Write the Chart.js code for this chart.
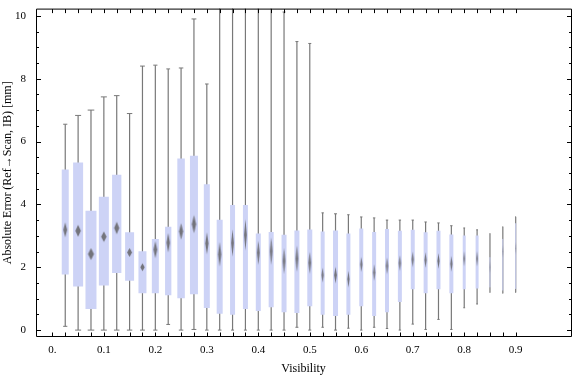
<!DOCTYPE html>
<html>
<head>
<meta charset="utf-8">
<script src="https://cdn.jsdelivr.net/npm/chart.js@4.4.1/dist/chart.umd.min.js"></script>
<style>
  html, body { margin: 0; padding: 0; background: #fff; }
  #chart { display: block; }
</style>
</head>
<body>
<canvas id="chart" width="576" height="377"></canvas>
<script>
// Box-whisker summary per visibility bin
const visibility = [0.025, 0.05, 0.075, 0.1, 0.125, 0.15, 0.175, 0.2, 0.225, 0.25, 0.275, 0.3,
  0.325, 0.35, 0.375, 0.4, 0.425, 0.45, 0.475, 0.5, 0.525, 0.55, 0.575, 0.6,
  0.625, 0.65, 0.675, 0.7, 0.725, 0.75, 0.775, 0.8, 0.825, 0.85, 0.875, 0.9];
const whiskerHigh = [6.55, 6.83, 7.00, 7.42, 7.46, 6.89, 8.40, 8.43, 8.31, 8.34, 9.90, 7.83,
  11.5, 11.5, 11.5, 11.5, 11.5, 10.12, 9.18, 9.12, 3.73, 3.70, 3.67, 3.60,
  3.57, 3.50, 3.50, 3.50, 3.44, 3.41, 3.32, 3.25, 3.19, 3.07, 3.29, 3.61];
const upperQuartile = [5.11, 5.33, 3.80, 4.24, 4.94, 3.11, 2.51, 2.90, 3.29, 5.46, 5.55, 4.64,
  3.51, 3.98, 3.98, 3.07, 3.12, 3.03, 3.17, 3.20, 3.14, 3.17, 3.07, 3.23,
  3.12, 3.22, 3.16, 3.19, 3.11, 3.16, 3.04, 3.01, 3.01, 2.32, 2.90, 3.40];
const medianValue = [3.19, 3.16, 2.42, 2.97, 3.25, 2.47, 2.00, 2.56, 2.78, 3.14, 3.37, 2.76,
  2.41, 2.77, 3.03, 2.46, 2.51, 2.20, 2.27, 2.14, 1.75, 1.75, 1.62, 2.09,
  1.83, 2.04, 2.13, 2.25, 2.23, 2.20, 2.11, 2.27, 2.27, 2.00, 2.50, 2.60];
const lowerQuartile = [1.77, 1.39, 0.67, 1.42, 1.82, 1.57, 1.17, 1.17, 1.11, 1.01, 1.14, 0.70,
  0.52, 0.49, 0.67, 0.61, 0.73, 0.57, 0.54, 0.76, 0.49, 0.45, 0.49, 0.76,
  0.45, 0.57, 0.89, 1.30, 1.17, 1.30, 1.17, 1.30, 1.32, 1.36, 1.26, 1.31];
const whiskerLow = [0.12, 0, 0, 0, 0, 0, 0, 0, 0.18, 0, 0.02, 0,
  0, 0, 0, 0, 0, 0, 0.09, 0, 0.09, 0, 0.06, 0,
  0.09, 0.05, 0, 0.19, 0.02, 0.34, 0.02, 0.71, 0.83, 1.20, 1.17, 1.20];
// half height of the median marker (value units)
const medianSpread = [0.24, 0.19, 0.19, 0.17, 0.20, 0.14, 0.13, 0.27, 0.31, 0.26, 0.29, 0.35,
  0.39, 0.44, 0.50, 0.39, 0.44, 0.41, 0.42, 0.35, 0.24, 0.26, 0.26, 0.24,
  0.26, 0.26, 0.25, 0.25, 0.25, 0.25, 0.25, 0.25, 0.25, 0.20, 0.20, 0.20];

const xTickValues = [0, 0.1, 0.2, 0.3, 0.4, 0.5, 0.6, 0.7, 0.8, 0.9];
const xTickLabels = ['0.', '0.1', '0.2', '0.3', '0.4', '0.5', '0.6', '0.7', '0.8', '0.9'];
const yTickValues = [0, 2, 4, 6, 8, 10];
const yTickLabels = ['0', '2', '4', '6', '8', '10'];

// styling: box widths in px
const boxWidths = [7, 10, 11, 10, 9.3, 9, 8, 7, 6.3, 7.5, 8, 6,
  6, 5, 5, 5, 5, 5, 5, 5, 4, 5, 4, 4,
  4, 4, 4, 4, 4, 4, 4, 3, 3, 1, 1, 1];

const BOX_COLOR = 'rgb(205,211,246)';
const WHISKER_COLOR = 'rgb(120,120,120)';
const SERIF = "'Liberation Serif', 'DejaVu Serif', serif";

// vertical pairs split by gaps -> one segment per bin
const pairs = (lo, hi) => visibility.flatMap((x, i) => [{x, y: lo[i]}, {x, y: hi[i]}, {x, y: null}]);
const points = (vals) => visibility.map((x, i) => ({x, y: vals[i]}));

const diamondCache = {};
const diamond = (w, h) => {
  const key = w.toFixed(1) + 'x' + h.toFixed(1);
  if (diamondCache[key]) return diamondCache[key];
  const c = document.createElement('canvas');
  c.width = Math.ceil(w) + 2;
  c.height = Math.ceil(h) + 2;
  const g = c.getContext('2d');
  const cx = c.width / 2, cy = c.height / 2;
  g.fillStyle = 'rgba(105,105,110,0.9)';
  g.beginPath();
  g.moveTo(cx, cy - h / 2);
  g.lineTo(cx + w / 2, cy);
  g.lineTo(cx, cy + h / 2);
  g.lineTo(cx - w / 2, cy);
  g.closePath();
  g.fill();
  diamondCache[key] = c;
  return c;
};

const frameTicks = {
  id: 'frameTicks',
  afterDraw(chart) {
    const {ctx, chartArea: a, scales: {x, y}} = chart;
    const px = v => Math.round(x.getPixelForValue(v)) + 0.5;
    const py = v => Math.round(y.getPixelForValue(v)) + 0.5;
    const L = a.left + 0.5, R = a.right + 0.5, T = a.top + 0.5, B = a.bottom - 0.5;
    ctx.save();
    ctx.strokeStyle = '#000';
    ctx.lineWidth = 1;
    ctx.beginPath();
    [0, ...visibility].forEach(v => {
      const p = px(v);
      ctx.moveTo(p, B); ctx.lineTo(p, B - 4);
      ctx.moveTo(p, T); ctx.lineTo(p, T + 4);
    });
    for (let k = 0; k <= 20; k++) {
      const v = k / 2;
      const len = k % 4 === 0 ? 4.5 : 2.5;
      const p = py(v);
      ctx.moveTo(L, p); ctx.lineTo(L + len, p);
      ctx.moveTo(R, p); ctx.lineTo(R - len, p);
    }
    ctx.moveTo(L, T); ctx.lineTo(R, T); ctx.lineTo(R, B); ctx.lineTo(L, B); ctx.closePath();
    ctx.stroke();
    ctx.restore();
  }
};

new Chart(document.getElementById('chart'), {
  type: 'line',
  data: {
    datasets: [
      {
        label: 'median',
        order: 0,
        data: points(medianValue),
        showLine: false,
        pointRadius: 3,
        pointStyle: (c) => {
          const i = c.dataIndex;
          if (i === undefined) return 'circle';
          const ys = c.chart.scales.y;
          const h = Math.abs(ys.getPixelForValue(medianValue[i] + medianSpread[i]) -
                             ys.getPixelForValue(medianValue[i] - medianSpread[i]));
          return diamond(boxWidths[i] * 0.55, h);
        }
      },
      {
        label: 'caps',
        order: 1,
        data: [...points(whiskerHigh), ...points(whiskerLow)],
        showLine: false,
        pointStyle: 'line',
        pointRadius: (c) => boxWidths[c.dataIndex % visibility.length] * 0.3,
        pointBorderWidth: 1,
        pointBorderColor: WHISKER_COLOR
      },
      {
        label: 'boxes',
        order: 2,
        data: pairs(lowerQuartile, upperQuartile),
        borderColor: BOX_COLOR,
        borderCapStyle: 'butt',
        borderWidth: 4,
        pointRadius: 0,
        segment: {
          borderWidth: (c) => boxWidths[Math.floor(c.p0DataIndex / 3)]
        }
      },
      {
        label: 'whiskers',
        order: 3,
        data: pairs(whiskerLow, whiskerHigh),
        borderColor: WHISKER_COLOR,
        borderWidth: 1.2,
        pointRadius: 0
      }
    ]
  },
  options: {
    responsive: false,
    animation: false,
    spanGaps: false,
    layout: { padding: { left: 0, right: 1, top: 4, bottom: 0 } },
    plugins: { legend: { display: false }, tooltip: { enabled: false } },
    scales: {
      x: {
        type: 'linear',
        min: -0.0318,
        max: 1.0074,
        afterBuildTicks: (s) => { s.ticks = xTickValues.map(v => ({value: v})); },
        afterFit: (s) => { s.height = 40; },
        grid: { display: false },
        border: { display: false },
        ticks: {
          autoSkip: false,
          maxRotation: 0,
          padding: -1,
          color: '#000',
          font: { family: SERIF, size: 11 },
          callback: (v, i) => xTickLabels[i]
        },
        title: {
          display: true,
          text: 'Visibility',
          color: '#000',
          font: { family: SERIF, size: 12 },
          padding: { top: 0, bottom: 1 }
        }
      },
      y: {
        min: -0.2197,
        max: 10.229,
        afterBuildTicks: (s) => { s.ticks = yTickValues.map(v => ({value: v})); },
        afterFit: (s) => { s.width = 36; },
        grid: { display: false },
        border: { display: false },
        ticks: {
          padding: 2,
          color: '#000',
          font: { family: SERIF, size: 11 },
          callback: (v, i) => yTickLabels[i]
        },
        title: {
          display: true,
          text: 'Absolute Error (Ref\u2192Scan, IB) [mm]',
          color: '#000',
          font: { family: SERIF, size: 12 },
          padding: { top: 1, bottom: 0 }
        }
      }
    }
  },
  plugins: [frameTicks]
});
</script>
</body>
</html>
